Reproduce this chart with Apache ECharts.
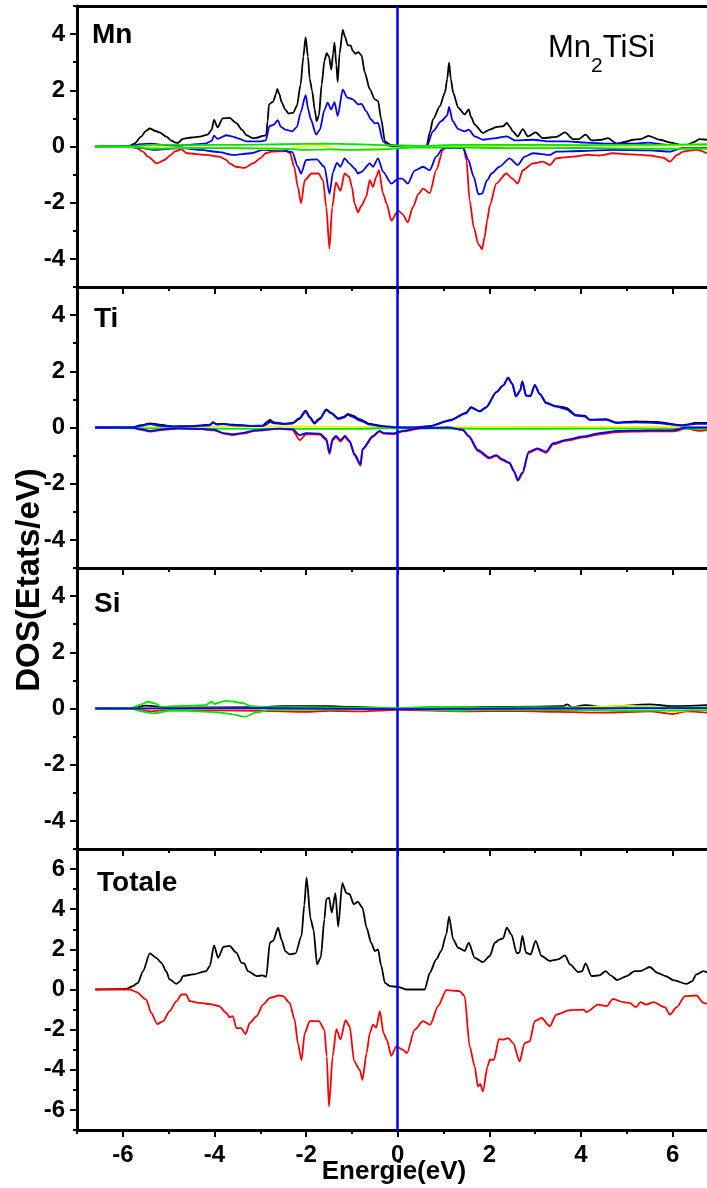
<!DOCTYPE html>
<html>
<head>
<meta charset="utf-8">
<title>Mn2TiSi DOS</title>
<script src="https://cdn.jsdelivr.net/npm/echarts@6/dist/echarts.min.js"></script>
<style>
  html, body { margin: 0; padding: 0; background: #fff; }
  #chart { width: 707px; height: 1188px; }
</style>
</head>
<body>
<div id="chart"></div>
<script>
// ---- Axis ranges and tick values ----
const X_MIN = -7, X_MAX = 6.75;
const xMajor = [-6, -4, -2, 0, 2, 4, 6];
const xMinor = [-7, -5, -3, -1, 1, 3, 5];
const yMajorPdos = [-4, -2, 0, 2, 4];
const yMinorPdos = [-5, -3, -1, 1, 3, 5];
const yMajorTot = [-6, -4, -2, 0, 2, 4, 6];
const yMinorTot = [-7, -5, -3, -1, 1, 3, 5, 7];
const panelNames = ['Mn', 'Ti', 'Si', 'Totale'];

// ---- Mn partial DOS (spin up positive, spin down negative) ----
const mnUpTotal = [[-6.6,0],[-6.0,0],[-5.85,0.03],[-5.75,0.1],[-5.6,0.35],[-5.5,0.55],[-5.41,0.64],[-5.3,0.56],[-5.2,0.5],[-5.05,0.35],[-4.95,0.22],[-4.87,0.15],[-4.8,0.13],[-4.69,0.27],[-4.5,0.32],[-4.32,0.35],[-4.15,0.42],[-4.06,0.6],[-4.01,0.95],[-3.93,0.68],[-3.82,1.0],[-3.67,1.02],[-3.52,0.83],[-3.4,0.6],[-3.3,0.4],[-3.16,0.3],[-3.05,0.32],[-2.95,0.38],[-2.87,0.4],[-2.84,0.9],[-2.81,1.5],[-2.72,1.6],[-2.66,1.85],[-2.63,2.05],[-2.58,1.85],[-2.54,1.6],[-2.45,1.3],[-2.38,1.17],[-2.28,1.2],[-2.2,1.45],[-2.12,2.2],[-2.06,3.2],[-2.01,3.89],[-1.96,3.2],[-1.92,2.4],[-1.87,2.0],[-1.81,1.3],[-1.77,0.9],[-1.72,1.1],[-1.66,2.2],[-1.6,3.05],[-1.55,3.32],[-1.5,3.2],[-1.45,2.74],[-1.41,3.3],[-1.38,3.7],[-1.34,2.9],[-1.31,2.3],[-1.27,3.3],[-1.2,4.15],[-1.15,3.9],[-1.09,3.6],[-1.03,3.6],[-0.98,3.4],[-0.92,3.3],[-0.86,3.36],[-0.79,3.24],[-0.72,2.64],[-0.61,2.04],[-0.5,1.68],[-0.43,1.62],[-0.36,0.96],[-0.28,0.18],[-0.15,0.06],[0.05,0.0],[0.63,0],[0.7,0.5],[0.77,0.96],[0.92,1.44],[1.03,1.92],[1.08,2.4],[1.12,2.98],[1.16,2.4],[1.21,1.92],[1.32,1.38],[1.46,1.14],[1.55,1.32],[1.6,1.05],[1.68,0.78],[1.86,0.48],[2.01,0.6],[2.15,0.69],[2.3,0.72],[2.38,0.84],[2.45,0.7],[2.51,0.54],[2.62,0.36],[2.73,0.62],[2.84,0.36],[3.01,0.5],[3.17,0.3],[3.46,0.34],[3.65,0.5],[3.83,0.26],[3.95,0.26],[4.1,0.42],[4.23,0.22],[4.45,0.24],[4.59,0.3],[4.78,0.1],[4.95,0.16],[5.14,0.24],[5.3,0.26],[5.47,0.38],[5.72,0.24],[5.95,0.14],[6.16,0.06],[6.3,0.05],[6.45,0.15],[6.59,0.26],[6.75,0.24]];
const mnUpD = [[-6.6,0],[-5.9,0],[-5.6,0.08],[-5.4,0.1],[-5.0,0.04],[-4.8,0.02],[-4.5,0.07],[-4.2,0.1],[-4.06,0.2],[-4.01,0.39],[-3.93,0.27],[-3.74,0.4],[-3.6,0.35],[-3.5,0.3],[-3.3,0.18],[-3.0,0.18],[-2.88,0.22],[-2.8,0.72],[-2.7,0.78],[-2.62,0.94],[-2.55,0.7],[-2.45,0.6],[-2.3,0.54],[-2.2,0.7],[-2.12,1.2],[-2.01,1.83],[-1.95,1.3],[-1.9,0.98],[-1.78,0.42],[-1.7,0.6],[-1.6,1.3],[-1.53,1.56],[-1.45,1.32],[-1.38,1.58],[-1.31,1.08],[-1.2,2.02],[-1.1,1.74],[-0.98,1.68],[-0.86,1.5],[-0.79,1.52],[-0.69,1.26],[-0.58,0.96],[-0.5,0.82],[-0.43,0.84],[-0.32,0.18],[-0.2,0.03],[0,0],[0.63,0],[0.77,0.54],[0.95,0.9],[1.08,1.1],[1.12,1.41],[1.2,0.9],[1.32,0.62],[1.46,0.54],[1.55,0.6],[1.68,0.36],[1.86,0.24],[2.15,0.3],[2.38,0.36],[2.55,0.22],[2.95,0.24],[3.32,0.18],[3.7,0.18],[4.1,0.14],[4.6,0.1],[5.14,0.1],[5.47,0.14],[5.85,0.06],[6.75,0.06]];
const mnDnTotal = [[-6.6,0],[-5.85,0],[-5.7,-0.06],[-5.56,-0.18],[-5.45,-0.36],[-5.26,-0.6],[-5.09,-0.48],[-4.95,-0.3],[-4.87,-0.18],[-4.72,-0.1],[-4.6,-0.24],[-4.18,-0.3],[-3.89,-0.36],[-3.74,-0.48],[-3.67,-0.6],[-3.53,-0.72],[-3.34,-0.76],[-3.16,-0.6],[-3.0,-0.42],[-2.88,-0.24],[-2.75,-0.18],[-2.44,-0.16],[-2.35,-0.24],[-2.26,-0.72],[-2.18,-1.44],[-2.11,-2.02],[-2.03,-1.2],[-1.88,-0.96],[-1.73,-0.96],[-1.63,-1.2],[-1.56,-2.16],[-1.49,-3.63],[-1.43,-2.16],[-1.35,-1.28],[-1.25,-1.58],[-1.16,-0.96],[-1.06,-1.08],[-1.0,-1.44],[-0.94,-2.04],[-0.87,-2.34],[-0.79,-2.1],[-0.69,-1.8],[-0.61,-1.2],[-0.54,-1.44],[-0.47,-1.08],[-0.41,-0.84],[-0.32,-1.68],[-0.24,-2.04],[-0.14,-2.64],[0.01,-2.28],[0.1,-2.4],[0.22,-2.7],[0.33,-2.16],[0.45,-1.7],[0.55,-1.5],[0.7,-1.66],[0.84,-0.84],[0.99,-0.12],[1.06,-0.02],[1.43,-0.02],[1.5,-0.48],[1.57,-1.92],[1.66,-2.88],[1.76,-3.48],[1.8,-3.55],[1.84,-3.66],[1.9,-3.2],[1.95,-2.64],[2.01,-2.1],[2.15,-1.32],[2.37,-0.96],[2.5,-1.14],[2.62,-1.32],[2.73,-0.84],[2.95,-0.6],[3.17,-0.54],[3.32,-0.66],[3.46,-0.42],[3.83,-0.36],[4.12,-0.3],[4.4,-0.32],[4.7,-0.24],[5.1,-0.28],[5.5,-0.32],[5.8,-0.4],[5.94,-0.54],[6.1,-0.3],[6.23,-0.18],[6.52,-0.12],[6.75,-0.24]];
const mnDnD = [[-6.6,0],[-5.9,0],[-5.6,-0.06],[-5.3,-0.12],[-5.0,-0.08],[-4.7,-0.06],[-4.3,-0.12],[-3.9,-0.2],[-3.59,-0.3],[-3.2,-0.24],[-2.95,-0.12],[-2.5,-0.14],[-2.3,-0.2],[-2.18,-0.72],[-2.11,-0.96],[-2.0,-0.48],[-1.77,-0.46],[-1.6,-0.72],[-1.49,-1.68],[-1.41,-0.9],[-1.33,-0.58],[-1.25,-0.72],[-1.16,-0.42],[-1.06,-0.6],[-0.94,-0.78],[-0.87,-0.96],[-0.79,-0.9],[-0.61,-0.6],[-0.54,-0.72],[-0.43,-0.42],[-0.32,-0.9],[-0.14,-1.32],[0.01,-1.14],[0.1,-1.14],[0.22,-1.32],[0.37,-0.86],[0.55,-0.72],[0.7,-0.84],[0.84,-0.36],[0.99,-0.06],[1.43,-0.06],[1.54,-0.48],[1.66,-1.08],[1.76,-1.7],[1.84,-1.68],[1.95,-1.2],[2.05,-0.96],[2.22,-0.72],[2.44,-0.42],[2.62,-0.66],[2.77,-0.36],[2.95,-0.24],[3.32,-0.3],[3.46,-0.18],[4.0,-0.16],[4.7,-0.12],[5.5,-0.14],[5.94,-0.18],[6.2,-0.06],[6.75,-0.06]];
const mnSpUp = [[-6.6,0],[-5.8,0],[-5.4,0.06],[-4.5,0.05],[-3.5,0.06],[-2.5,0.08],[-1.5,0.1],[-1.0,0.08],[-0.3,0.05],[0.6,0.02],[1.2,0.06],[2.5,0.06],[4,0.05],[5.5,0.06],[6.75,0.08]];
const mnSpDn = [[-6.6,0],[-5.8,0],[-5.4,-0.08],[-4.5,-0.05],[-3.5,-0.06],[-2.5,-0.08],[-2.0,-0.12],[-1.5,-0.1],[-1.0,-0.12],[-0.3,-0.1],[0.3,-0.04],[1.2,-0.03],[2.5,-0.06],[4,-0.05],[5.5,-0.08],[6.75,-0.08]];
const mnYellow = [[-6.6,0],[-5.5,-0.03],[-4,-0.05],[-2.5,-0.1],[-1.8,0.05],[-1.2,-0.12],[-0.5,-0.08],[0.5,0],[3,0.03],[6.75,0.03]];

// ---- Ti partial DOS ----
const tiUpTotal = [[-6.6,0],[-5.8,0],[-5.6,0.08],[-5.41,0.15],[-5.2,0.1],[-4.9,0.04],[-4.5,0.05],[-4.1,0.1],[-4.03,0.18],[-3.95,0.12],[-3.8,0.13],[-3.6,0.1],[-3.2,0.06],[-2.95,0.07],[-2.85,0.2],[-2.79,0.27],[-2.7,0.18],[-2.5,0.14],[-2.3,0.16],[-2.15,0.32],[-2.01,0.6],[-1.92,0.38],[-1.82,0.17],[-1.7,0.33],[-1.56,0.64],[-1.45,0.52],[-1.3,0.33],[-1.18,0.38],[-1.09,0.48],[-0.98,0.42],[-0.83,0.3],[-0.61,0.13],[-0.33,0.05],[0,0.01],[0.3,0],[0.7,0.05],[1.14,0.26],[1.49,0.52],[1.6,0.72],[1.79,0.58],[1.93,0.72],[2.15,1.26],[2.3,1.5],[2.41,1.77],[2.5,1.56],[2.58,1.11],[2.67,1.31],[2.72,1.64],[2.8,1.14],[2.9,1.13],[2.99,1.52],[3.1,1.2],[3.24,0.88],[3.46,0.76],[3.68,0.7],[3.89,0.44],[4.08,0.42],[4.19,0.28],[4.55,0.3],[4.77,0.18],[5.2,0.22],[5.64,0.2],[6.22,0.08],[6.51,0.16],[6.75,0.16]];
const tiUpD = [[-6.6,0],[-5.8,0],[-5.6,0.06],[-5.41,0.12],[-5.2,0.06],[-4.9,0.03],[-4.5,0.04],[-4.1,0.08],[-4.03,0.18],[-3.95,0.1],[-3.8,0.12],[-3.6,0.08],[-3.2,0.05],[-2.95,0.05],[-2.85,0.12],[-2.79,0.2],[-2.7,0.15],[-2.5,0.12],[-2.3,0.14],[-2.15,0.3],[-2.01,0.57],[-1.92,0.35],[-1.82,0.14],[-1.7,0.3],[-1.56,0.62],[-1.45,0.5],[-1.3,0.3],[-1.18,0.35],[-1.09,0.45],[-0.98,0.38],[-0.83,0.25],[-0.61,0.1],[-0.33,0.04],[0,0],[0.3,0],[0.7,0.04],[1.14,0.25],[1.49,0.5],[1.6,0.71],[1.79,0.57],[1.93,0.71],[2.15,1.25],[2.3,1.49],[2.41,1.76],[2.5,1.55],[2.58,1.1],[2.67,1.3],[2.72,1.63],[2.8,1.13],[2.9,1.12],[2.99,1.51],[3.1,1.19],[3.24,0.87],[3.46,0.74],[3.68,0.65],[3.89,0.42],[4.08,0.4],[4.19,0.27],[4.55,0.27],[4.77,0.16],[5.2,0.18],[5.64,0.16],[6.22,0.07],[6.51,0.13],[6.75,0.13]];
const tiDnTotal = [[-6.6,0],[-5.8,0],[-5.6,-0.08],[-5.41,-0.15],[-5.1,-0.08],[-4.8,-0.04],[-4.3,-0.06],[-4.0,-0.1],[-3.8,-0.22],[-3.6,-0.27],[-3.4,-0.22],[-3.1,-0.12],[-2.6,-0.05],[-2.3,-0.08],[-2.14,-0.45],[-2.0,-0.24],[-1.7,-0.25],[-1.56,-0.45],[-1.49,-0.95],[-1.42,-0.45],[-1.35,-0.34],[-1.25,-0.5],[-1.15,-0.34],[-1.05,-0.52],[-0.94,-1.0],[-0.81,-1.36],[-0.77,-0.8],[-0.54,-0.33],[-0.4,-0.15],[-0.3,-0.22],[-0.1,-0.24],[0.12,-0.14],[0.5,-0.03],[1.1,0],[1.42,-0.09],[1.55,-0.32],[1.75,-0.84],[2.0,-1.1],[2.15,-1.01],[2.28,-1.16],[2.44,-1.28],[2.54,-1.58],[2.62,-1.9],[2.72,-1.65],[2.86,-0.9],[3.05,-0.77],[3.24,-0.9],[3.39,-0.6],[3.68,-0.47],[4.04,-0.35],[4.41,-0.24],[4.8,-0.16],[5.5,-0.14],[6.0,-0.14],[6.3,-0.04],[6.6,-0.12],[6.75,-0.08]];
const tiDnD = [[-6.6,0],[-5.8,0],[-5.6,-0.06],[-5.41,-0.12],[-5.1,-0.06],[-4.8,-0.03],[-4.3,-0.05],[-4.0,-0.08],[-3.8,-0.2],[-3.6,-0.24],[-3.4,-0.2],[-3.1,-0.1],[-2.6,-0.04],[-2.3,-0.06],[-2.14,-0.27],[-2.0,-0.2],[-1.7,-0.22],[-1.56,-0.4],[-1.49,-0.89],[-1.42,-0.4],[-1.35,-0.3],[-1.25,-0.45],[-1.15,-0.3],[-1.05,-0.48],[-0.94,-0.96],[-0.81,-1.31],[-0.77,-0.77],[-0.54,-0.3],[-0.4,-0.12],[-0.3,-0.2],[-0.1,-0.21],[0.12,-0.12],[0.5,-0.02],[1.1,0],[1.42,-0.08],[1.55,-0.3],[1.75,-0.8],[2.0,-1.07],[2.15,-0.98],[2.28,-1.13],[2.44,-1.25],[2.54,-1.55],[2.62,-1.87],[2.72,-1.61],[2.86,-0.86],[3.05,-0.74],[3.24,-0.86],[3.39,-0.56],[3.68,-0.44],[4.04,-0.32],[4.41,-0.2],[4.8,-0.12],[5.5,-0.1],[6.0,-0.1],[6.3,0],[6.75,0]];
const tiSp = [[-6.6,0],[-5.5,-0.03],[-3,-0.05],[-1,-0.05],[0,-0.02],[2,-0.05],[4,-0.04],[6.75,-0.05]];
const tiYellow = [[-6.6,0],[-5.5,0.02],[-2.5,0.04],[-1.5,0.03],[0,0],[3,0.02],[6.75,0.02]];

// ---- Si partial DOS ----
const siUpTotal = [[-6.6,0],[-5.8,0],[-5.5,0.1],[-5,0.03],[-3,0.05],[-2.5,0.08],[-1.5,0.08],[-1.0,0.06],[0,0],[1,0.04],[2.5,0.06],[3.6,0.08],[3.7,0.15],[3.8,0.05],[4.1,0.12],[4.5,0.05],[5.5,0.15],[6,0.08],[6.75,0.12]];
const siDnTotal = [[-6.6,0],[-5.8,0],[-5.4,-0.1],[-5,-0.05],[-3,-0.08],[-2,-0.12],[-1.5,-0.08],[-0.8,-0.1],[0,-0.05],[1.5,-0.1],[2.5,-0.08],[3.5,-0.12],[4.5,-0.15],[5.5,-0.1],[6.0,-0.2],[6.3,-0.1],[6.75,-0.15]];
const siSpUp = [[-6.6,0],[-5.83,0],[-5.6,0.15],[-5.45,0.24],[-5.3,0.18],[-5.15,0.05],[-4.9,0.08],[-4.5,0.1],[-4.2,0.12],[-4.06,0.24],[-4.0,0.16],[-3.77,0.27],[-3.6,0.25],[-3.38,0.19],[-3.2,0.08],[-2.9,0.05],[-2.5,0.05],[-1.5,0.04],[-0.5,0.02],[0,0],[0.5,0.05],[1.2,0.06],[2,0.03],[3,0.05],[4,0.02],[5,0.03],[6.75,0.04]];
const siSpDn = [[-6.6,0],[-5.83,0],[-5.6,-0.1],[-5.34,-0.17],[-5.2,-0.15],[-5.0,-0.08],[-4.6,-0.08],[-4.06,-0.12],[-3.7,-0.18],[-3.33,-0.29],[-3.1,-0.15],[-2.8,-0.06],[-2.4,-0.05],[-1.5,-0.04],[0,0],[1.2,-0.08],[2,-0.05],[3,-0.06],[4,-0.06],[5,-0.08],[6.75,-0.06]];
const siYellow = [[-6.6,0],[3,0],[4,0.05],[5,0.1],[5.6,0.05],[6,-0.12],[6.75,0.05]];
const siD = [[-6.6,0],[-3,0.01],[0,-0.02],[3,0],[6.75,0.01]];

// ---- Total DOS ----
const totUp = [[-6.6,0],[-5.92,0.03],[-5.8,0.15],[-5.67,0.33],[-5.56,0.92],[-5.41,1.8],[-5.27,1.58],[-5.16,1.33],[-5.05,0.9],[-4.98,0.5],[-4.83,0.28],[-4.75,0.4],[-4.69,0.67],[-4.47,0.75],[-4.18,0.92],[-4.1,1.17],[-4.01,2.2],[-3.92,1.58],[-3.8,2.13],[-3.67,2.17],[-3.52,1.83],[-3.41,1.33],[-3.35,1.3],[-3.27,0.92],[-3.08,0.67],[-2.95,0.7],[-2.87,0.63],[-2.79,2.33],[-2.72,2.42],[-2.61,3.08],[-2.54,2.5],[-2.45,1.9],[-2.36,1.75],[-2.23,1.8],[-2.1,2.67],[-2.04,4.2],[-1.99,5.58],[-1.9,3.5],[-1.84,3.0],[-1.76,1.25],[-1.68,1.6],[-1.6,3.5],[-1.56,4.5],[-1.5,4.58],[-1.44,3.83],[-1.36,4.8],[-1.3,3.13],[-1.21,5.3],[-1.12,4.8],[-1.05,4.75],[-0.96,4.25],[-0.87,4.37],[-0.77,4.08],[-0.68,3.08],[-0.58,2.33],[-0.5,1.92],[-0.43,2.0],[-0.36,1.17],[-0.28,0.33],[-0.17,0.17],[0,0.13],[0.19,0],[0.59,0],[0.7,0.83],[0.84,1.5],[0.95,1.92],[1.06,2.75],[1.12,3.63],[1.21,2.5],[1.32,2.08],[1.46,1.92],[1.55,2.33],[1.68,1.58],[1.86,1.37],[2.01,1.67],[2.12,2.33],[2.23,2.5],[2.3,2.55],[2.38,3.08],[2.48,2.75],[2.6,1.8],[2.66,1.85],[2.72,2.67],[2.8,1.83],[2.9,1.75],[3.01,2.42],[3.14,1.67],[3.32,1.42],[3.5,1.5],[3.65,1.7],[3.76,1.25],[3.94,0.87],[4.02,0.9],[4.1,1.3],[4.23,0.67],[4.4,0.7],[4.54,0.92],[4.65,0.7],[4.79,0.47],[5.0,0.67],[5.17,0.92],[5.3,0.92],[5.5,1.12],[5.67,0.83],[5.85,0.67],[6.01,0.47],[6.3,0.28],[6.42,0.4],[6.52,0.75],[6.67,0.92],[6.75,0.85]];
const totDn = [[-6.6,0],[-5.85,0],[-5.7,-0.13],[-5.49,-0.5],[-5.38,-1.17],[-5.25,-1.72],[-5.12,-1.58],[-4.98,-1.08],[-4.83,-0.58],[-4.72,-0.25],[-4.62,-0.25],[-4.54,-0.58],[-4.32,-0.67],[-4.03,-0.75],[-3.9,-0.83],[-3.74,-1.17],[-3.67,-1.38],[-3.6,-1.33],[-3.52,-1.92],[-3.42,-1.92],[-3.32,-2.22],[-3.23,-1.67],[-3.08,-1.33],[-2.94,-0.75],[-2.79,-0.42],[-2.58,-0.3],[-2.5,-0.33],[-2.36,-0.67],[-2.25,-1.5],[-2.18,-2.67],[-2.1,-3.53],[-2.03,-2.17],[-1.92,-1.58],[-1.72,-1.58],[-1.6,-2.0],[-1.55,-3.33],[-1.5,-5.83],[-1.42,-3.33],[-1.34,-1.97],[-1.25,-2.5],[-1.14,-1.53],[-1.05,-1.83],[-0.95,-3.58],[-0.83,-4.0],[-0.77,-4.5],[-0.68,-3.17],[-0.61,-2.17],[-0.54,-1.75],[-0.47,-1.9],[-0.39,-1.08],[-0.31,-2.17],[-0.24,-2.5],[-0.14,-3.3],[-0.03,-2.83],[0.11,-3.0],[0.2,-3.17],[0.37,-2.0],[0.55,-1.58],[0.71,-1.75],[0.88,-0.83],[1.06,-0.03],[1.35,-0.08],[1.46,-0.33],[1.57,-2.83],[1.68,-3.83],[1.75,-4.83],[1.8,-4.7],[1.86,-5.08],[1.96,-3.83],[2.01,-3.5],[2.1,-3.5],[2.21,-2.47],[2.3,-2.5],[2.41,-2.42],[2.52,-2.67],[2.66,-3.58],[2.77,-2.67],[2.88,-2.58],[2.99,-1.58],[3.14,-1.42],[3.32,-1.83],[3.46,-1.25],[3.76,-1.03],[4.06,-1.0],[4.12,-1.13],[4.37,-0.75],[4.56,-0.83],[4.7,-0.47],[4.92,-0.63],[5.06,-0.67],[5.2,-0.88],[5.3,-0.63],[5.42,-0.75],[5.58,-0.63],[5.83,-0.88],[5.94,-1.25],[6.09,-0.88],[6.27,-0.33],[6.52,-0.3],[6.67,-0.67],[6.75,-0.72]];

// ---- Styling ----
const FONT = "'Liberation Sans', Arial, Helvetica, sans-serif";
const C = { black: '#000000', red: '#ff0000', blue: '#0000ff', green: '#00e600', yellow: '#f2f200' };
const GRID_LEFT = 77, PANEL_TOP = 6, PANEL_H = 281;

// Curves drawn in each panel, bottom layer first
const panelSeries = [
  [[mnUpTotal, C.black], [mnDnTotal, C.red], [mnUpD, C.blue], [mnDnD, C.blue], [mnYellow, C.yellow], [mnSpUp, C.green], [mnSpDn, C.green]],
  [[tiUpTotal, C.black], [tiDnTotal, C.red], [tiYellow, C.yellow], [tiSp, C.green], [tiUpD, C.blue], [tiDnD, C.blue]],
  [[siUpTotal, C.black], [siDnTotal, C.red], [siYellow, C.yellow], [siSpUp, C.green], [siSpDn, C.green], [siD, C.blue]],
  [[totUp, C.black], [totDn, C.red]]
];

const grid = [], xAxis = [], yAxis = [], series = [];
const frame = { color: '#000', width: 3 };
const tickStyle = { color: '#000', width: 2 };
const labelFont = { color: '#000', fontFamily: FONT, fontWeight: 'bold', fontSize: 24 };

panelNames.forEach((name, i) => {
  const isTot = i === 3;
  grid.push({ left: GRID_LEFT, right: 0, top: PANEL_TOP + PANEL_H * i, height: PANEL_H, containLabel: false });

  // main x axis: frame line, major ticks, labels on the bottom panel only
  const xMain = xAxis.length;
  xAxis.push({
    type: 'value', gridIndex: i, min: X_MIN, max: X_MAX, position: 'bottom',
    axisLine: { show: true, onZero: false, lineStyle: frame },
    axisTick: { show: true, inside: false, length: 7, lineStyle: tickStyle, customValues: xMajor },
    axisLabel: Object.assign({ show: isTot, margin: 13, customValues: xMajor }, labelFont),
    splitLine: { show: false }
  });
  // minor x ticks
  xAxis.push({
    type: 'value', gridIndex: i, min: X_MIN, max: X_MAX, position: 'bottom',
    axisLine: { show: false, onZero: false },
    axisTick: { show: true, inside: false, length: 4, lineStyle: tickStyle, customValues: xMinor },
    axisLabel: { show: false }, splitLine: { show: false }
  });
  if (i === 0) {
    // top frame of the first panel
    xAxis.push({
      type: 'value', gridIndex: i, min: X_MIN, max: X_MAX, position: 'top',
      axisLine: { show: true, onZero: false, lineStyle: frame },
      axisTick: { show: false }, axisLabel: { show: false }, splitLine: { show: false }
    });
  }

  const yMin = isTot ? -7 : -5, yMax = isTot ? 7 : 5;
  const yMaj = isTot ? yMajorTot : yMajorPdos, yMin2 = isTot ? yMinorTot : yMinorPdos;
  const yMainIdx = yAxis.length;
  yAxis.push({
    type: 'value', gridIndex: i, min: yMin, max: yMax, position: 'left',
    axisLine: { show: true, onZero: false, lineStyle: frame },
    axisTick: { show: true, inside: false, length: 7, lineStyle: tickStyle, customValues: yMaj },
    axisLabel: Object.assign({ margin: 12, customValues: yMaj }, labelFont),
    splitLine: { show: false }
  });
  yAxis.push({
    type: 'value', gridIndex: i, min: yMin, max: yMax, position: 'left',
    axisLine: { show: false, onZero: false },
    axisTick: { show: true, inside: false, length: 4, lineStyle: tickStyle, customValues: yMin2 },
    axisLabel: { show: false }, splitLine: { show: false }
  });

  const list = panelSeries[i];
  list.forEach(([data, color], k) => {
    const s = {
      type: 'line', xAxisIndex: xMain, yAxisIndex: yMainIdx, data: data,
      showSymbol: false, symbol: 'none', smooth: 0.25, smoothMonotone: 'x', silent: true,
      lineStyle: { color: color, width: 1.8 }, z: 2 + k
    };
    if (k === list.length - 1) {
      // Fermi level
      s.markLine = {
        silent: true, symbol: 'none', label: { show: false },
        lineStyle: { color: '#0000ff', width: 2.5, type: 'solid' },
        data: [{ xAxis: 0 }]
      };
    }
    series.push(s);
  });
});

// Panel labels and axis titles
const textEl = (x, y, text, size, weight) => ({
  type: 'text', x: x, y: y, z: 100,
  style: { text: text, fill: '#000', font: weight + ' ' + size + 'px ' + FONT, textVerticalAlign: 'middle' }
});

const graphic = [
  textEl(92, 35, panelNames[0], 28, 'bold'),
  textEl(94, 319, panelNames[1], 28, 'bold'),
  textEl(94, 604, panelNames[2], 28, 'bold'),
  textEl(97, 883, panelNames[3], 28, 'bold'),
  {
    type: 'text', x: 548, y: 33, z: 100,
    style: {
      text: '{a|Mn}{b|2}{a|TiSi}', fill: '#000',
      rich: {
        a: { fontFamily: FONT, fontSize: 31, lineHeight: 31, verticalAlign: 'top', fill: '#000' },
        b: { fontFamily: FONT, fontSize: 21, lineHeight: 21, padding: [23, 0, 0, 0], verticalAlign: 'top', fill: '#000' }
      }
    }
  },
  {
    type: 'text', x: 30, y: 580, rotation: Math.PI / 2, z: 100,
    style: { text: 'DOS(Etats/eV)', fill: '#000', font: 'bold 33px ' + FONT, textAlign: 'center', textVerticalAlign: 'middle' }
  },
  {
    type: 'text', x: 394, y: 1172, z: 100,
    style: { text: 'Energie(eV)', fill: '#000', font: 'bold 26px ' + FONT, textAlign: 'center', textVerticalAlign: 'middle' }
  }
];

const chart = echarts.init(document.getElementById('chart'), null, { renderer: 'canvas' });
chart.setOption({
  animation: false,
  backgroundColor: '#ffffff',
  grid: grid, xAxis: xAxis, yAxis: yAxis, series: series, graphic: graphic
});
</script>
</body>
</html>
